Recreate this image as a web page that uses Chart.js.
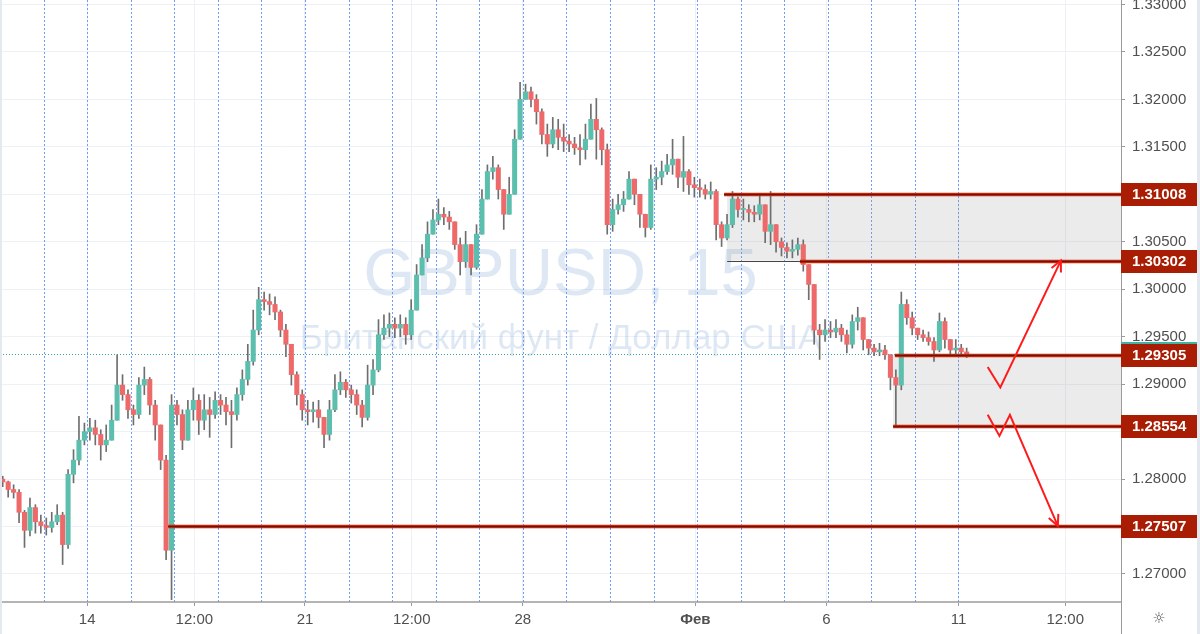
<!DOCTYPE html>
<html><head><meta charset="utf-8">
<script src="https://cdn.jsdelivr.net/npm/chart.js@4.4.1/dist/chart.umd.min.js"></script>
<style>html,body{margin:0;padding:0;background:#fff;overflow:hidden}</style>
</head><body>
<canvas id="c" width="1200" height="634"></canvas>
<script>
// ---------- DATA ----------
const perDay = 8; // candles per trading day (aggregated)
const firstOpen = 1.2800;
const closes = [
1.2797,1.2789,1.2786,1.2765,1.2746,1.2770,1.2755,1.2751,
1.2749,1.2755,1.2762,1.2731,1.2805,1.2820,1.2841,1.2850,
1.2854,1.2847,1.2836,1.2841,1.2862,1.2899,1.2889,1.2873,
1.2868,1.2899,1.2905,1.2878,1.2857,1.2820,1.2725,1.2878,
1.2868,1.2841,1.2873,1.2883,1.2862,1.2873,1.2868,1.2883,
1.2878,1.2871,1.2868,1.2889,1.2905,1.2924,1.2957,1.2989,
1.2987,1.2984,1.2976,1.2957,1.2942,1.2910,1.2889,1.2873,
1.2871,1.2873,1.2865,1.2847,1.2873,1.2894,1.2902,1.2894,
1.2889,1.2878,1.2865,1.2899,1.2915,1.2952,1.2959,1.2963,
1.2959,1.2963,1.2952,1.2978,1.3015,1.3033,1.3058,1.3073,
1.3079,1.3076,1.3071,1.3047,1.3029,1.3047,1.3023,1.3058,
1.3095,1.3124,1.3128,1.3105,1.3079,1.3100,1.3158,1.3200,
1.3208,1.3200,1.3187,1.3163,1.3153,1.3168,1.3160,1.3156,
1.3153,1.3149,1.3147,1.3158,1.3179,1.3168,1.3147,1.3068,
1.3084,1.3089,1.3095,1.3116,1.3100,1.3079,1.3065,1.3116,
1.3118,1.3124,1.3131,1.3137,1.3118,1.3124,1.3110,1.3107,
1.3105,1.3100,1.3103,1.3068,1.3054,1.3068,1.3095,1.3084,
1.3084,1.3081,1.3079,1.3089,1.3061,1.3068,1.3050,1.3044,
1.3040,1.3042,1.3047,1.3026,1.3005,1.2957,1.2952,1.2957,
1.2955,1.2959,1.2952,1.2942,1.2966,1.2970,1.2947,1.2938,
1.2934,1.2936,1.2931,1.2907,1.2899,1.2984,1.2970,1.2959,
1.2952,1.2949,1.2945,1.2936,1.2966,1.2947,1.2936,1.2938,
1.2934,1.2932
];
const highs = [
1.2803,1.2798,1.2794,1.2789,1.2767,1.2780,1.2773,1.2762,
1.2759,1.2765,1.2773,1.2765,1.2810,1.2831,1.2866,1.2859,
1.2864,1.2862,1.2852,1.2857,1.2878,1.2931,1.2910,1.2894,
1.2878,1.2907,1.2918,1.2907,1.2883,1.2857,1.2825,1.2889,
1.2883,1.2873,1.2883,1.2896,1.2889,1.2889,1.2886,1.2892,
1.2889,1.2886,1.2883,1.2896,1.2915,1.2942,1.2978,1.3002,
1.2997,1.2995,1.2992,1.2978,1.2963,1.2936,1.2913,1.2894,
1.2883,1.2881,1.2883,1.2865,1.2883,1.2910,1.2913,1.2905,
1.2899,1.2894,1.2883,1.2920,1.2926,1.2968,1.2973,1.2975,
1.2970,1.2973,1.2970,1.2989,1.3026,1.3047,1.3071,1.3084,
1.3095,1.3086,1.3082,1.3071,1.3054,1.3061,1.3047,1.3068,
1.3105,1.3131,1.3140,1.3131,1.3105,1.3118,1.3168,1.3218,
1.3216,1.3213,1.3205,1.3190,1.3174,1.3181,1.3179,1.3174,
1.3163,1.3160,1.3163,1.3174,1.3195,1.3201,1.3170,1.3153,
1.3095,1.3100,1.3103,1.3124,1.3116,1.3095,1.3079,1.3131,
1.3128,1.3135,1.3142,1.3158,1.3135,1.3161,1.3126,1.3118,
1.3116,1.3110,1.3113,1.3105,1.3071,1.3079,1.3103,1.3097,
1.3095,1.3089,1.3088,1.3098,1.3089,1.3103,1.3068,1.3054,
1.3049,1.3052,1.3054,1.3052,1.3021,1.3000,1.2963,1.2968,
1.2966,1.2968,1.2963,1.2957,1.2973,1.2981,1.2968,1.2947,
1.2942,1.2943,1.2941,1.2931,1.2915,1.2997,1.2989,1.2976,
1.2959,1.2957,1.2955,1.2949,1.2975,1.2970,1.2947,1.2947,
1.2942,1.2938
];
const lows = [
1.2792,1.2781,1.2780,1.2754,1.2728,1.2740,1.2743,1.2743,
1.2741,1.2744,1.2752,1.2710,1.2727,1.2796,1.2815,1.2836,
1.2841,1.2836,1.2820,1.2829,1.2841,1.2862,1.2883,1.2864,
1.2857,1.2864,1.2889,1.2868,1.2841,1.2810,1.2715,1.2673,
1.2857,1.2831,1.2841,1.2862,1.2847,1.2852,1.2844,1.2864,
1.2868,1.2857,1.2833,1.2862,1.2883,1.2899,1.2920,1.2952,
1.2978,1.2973,1.2968,1.2950,1.2929,1.2899,1.2878,1.2862,
1.2857,1.2860,1.2854,1.2833,1.2841,1.2871,1.2889,1.2886,
1.2880,1.2868,1.2855,1.2862,1.2889,1.2913,1.2947,1.2950,
1.2949,1.2950,1.2942,1.2947,1.2978,1.3015,1.3029,1.3058,
1.3068,1.3068,1.3063,1.3042,1.3015,1.3023,1.3015,1.3021,
1.3058,1.3095,1.3116,1.3095,1.3063,1.3079,1.3100,1.3158,
1.3200,1.3192,1.3174,1.3153,1.3140,1.3149,1.3147,1.3145,
1.3145,1.3142,1.3131,1.3137,1.3158,1.3137,1.3131,1.3058,
1.3061,1.3079,1.3082,1.3095,1.3089,1.3065,1.3055,1.3063,
1.3105,1.3110,1.3121,1.3121,1.3107,1.3103,1.3100,1.3097,
1.3097,1.3095,1.3095,1.3052,1.3045,1.3052,1.3065,1.3076,
1.3073,1.3071,1.3071,1.3073,1.3049,1.3047,1.3039,1.3035,
1.3033,1.3033,1.3036,1.3019,1.2989,1.2942,1.2926,1.2945,
1.2949,1.2949,1.2945,1.2933,1.2938,1.2957,1.2936,1.2931,
1.2930,1.2930,1.2926,1.2894,1.2855,1.2894,1.2963,1.2952,
1.2947,1.2945,1.2941,1.2924,1.2934,1.2938,1.2930,1.2930,
1.2930,1.2928
];
// x axis in trading days from start of the window
const xMin = 0, xMax = 25.73;
const dayBreaks = [1,2,3,4,5,6,7,8,9,10,11,12,13,14,15,16,17,18,19,20,21,22];
const tickValues = [2, 4.46, 7, 9.45, 12, 15.96, 18.97, 22, 24.45];
const tickLabels = ['14','12:00','21','12:00','28','Фев','6','11','12:00'];
const yMin = 1.26705, yMax = 1.33047;
const priceTicks = [1.270,1.275,1.280,1.285,1.290,1.295,1.300,1.305,1.310,1.315,1.320,1.325,1.330];
// drawn levels (price, start day)
const levelPrices = [1.31008, 1.30302, 1.29305, 1.28554, 1.27507];
const levelStarts = [16.62, 18.36, 20.54, 20.50, 3.86];
const thinSegStart = 16.69, thinSegEnd = 18.36, thinSegPrice = 1.30302;
// shaded zones
const zoneStarts = [16.69, 20.50];
const zoneTops = [1.31008, 1.29305];
const zoneBottoms = [1.30302, 1.28554];
// arrows (day, price)
const arrow1Days = [22.67, 22.96, 24.35];
const arrow1Prices = [1.29180, 1.28965, 1.30302];
const arrow2Days = [22.67, 22.94, 23.18, 24.28];
const arrow2Prices = [1.28677, 1.28455, 1.28677, 1.27507];

// ---------- BUILD ----------
const UP = '#5cbfae', DOWN = '#ee6a6a', WICK = '#6e6e6e';
const opens = closes.map((c,i)=> i===0 ? firstOpen : closes[i-1]);
const times = closes.map((c,i)=> (i+0.5)/perDay);
const wickData = closes.map((c,i)=>({x: times[i], y:[Math.min(lows[i],opens[i],c), Math.max(highs[i],opens[i],c)]}));
const bodyData = closes.map((c,i)=>({x: times[i], y:[opens[i], c]}));
const bodyColors = closes.map((c,i)=> c>=opens[i] ? UP : DOWN);
const lastPrice = closes[closes.length-1];

const FONT = '"Liberation Sans", Arial, sans-serif';
Chart.defaults.font.family = FONT;

const overlay = {
  id:'overlay',
  beforeDatasetsDraw(chart){
    const {ctx, chartArea:a, scales:{x,y}} = chart;
    ctx.save();
    ctx.beginPath(); ctx.rect(a.left,a.top,a.right-a.left,a.bottom-a.top); ctx.clip();
    // watermark
    const cx = (a.left+a.right)/2;
    ctx.fillStyle = 'rgba(90,140,200,0.2)';
    ctx.textAlign = 'center'; ctx.textBaseline='alphabetic';
    ctx.font = '67px '+FONT;
    ctx.fillText('GBPUSD, 15', cx, a.top+295);
    ctx.font = '35px '+FONT;
    ctx.fillText('Британский фунт / Доллар США', cx, a.top+349);
    // day separators
    ctx.strokeStyle = '#6f9ef0'; ctx.lineWidth = 1; ctx.setLineDash([2,2]);
    dayBreaks.forEach(d=>{
      const px = Math.round(x.getPixelForValue(d))+0.5;
      ctx.beginPath(); ctx.moveTo(px,a.top); ctx.lineTo(px,a.bottom); ctx.stroke();
    });
    ctx.setLineDash([]);
    // zones
    ctx.fillStyle = 'rgba(150,150,150,0.19)';
    zoneStarts.forEach((s,i)=>{
      const x0 = x.getPixelForValue(s);
      const y0 = y.getPixelForValue(zoneTops[i]), y1 = y.getPixelForValue(zoneBottoms[i]);
      ctx.fillRect(x0, y0, a.right-x0, y1-y0);
    });
    // current price dotted line
    const py = Math.round(y.getPixelForValue(lastPrice))+0.5;
    ctx.strokeStyle = '#3aa99a'; ctx.setLineDash([1,2]);
    ctx.beginPath(); ctx.moveTo(a.left,py); ctx.lineTo(a.right,py); ctx.stroke();
    ctx.restore();
  },
  afterDatasetsDraw(chart){
    const {ctx, chartArea:a, scales:{x,y}} = chart;
    ctx.save();
    ctx.beginPath(); ctx.rect(a.left,a.top,a.right-a.left,a.bottom-a.top); ctx.clip();
    // thin segment
    let ty = Math.round(y.getPixelForValue(thinSegPrice))+0.5;
    ctx.strokeStyle = '#444'; ctx.lineWidth = 1;
    ctx.beginPath(); ctx.moveTo(x.getPixelForValue(thinSegStart),ty); ctx.lineTo(x.getPixelForValue(thinSegEnd),ty); ctx.stroke();
    // level lines
    levelPrices.forEach((p,i)=>{
      const ly = Math.round(y.getPixelForValue(p))+0.5;
      const x0 = x.getPixelForValue(levelStarts[i]);
      ctx.strokeStyle = '#c0280c'; ctx.lineWidth = 3.5;
      ctx.beginPath(); ctx.moveTo(x0,ly); ctx.lineTo(a.right,ly); ctx.stroke();
      ctx.strokeStyle = '#6a1306'; ctx.lineWidth = 1;
      ctx.beginPath(); ctx.moveTo(x0,ly); ctx.lineTo(a.right,ly); ctx.stroke();
    });
    // arrows
    const drawArrow = (ds, ps)=>{
      ctx.strokeStyle = '#ff1a1a'; ctx.lineWidth = 2; ctx.lineJoin='miter';
      ctx.beginPath();
      ds.forEach((d,i)=>{ const X=x.getPixelForValue(d), Y=y.getPixelForValue(ps[i]); i?ctx.lineTo(X,Y):ctx.moveTo(X,Y); });
      ctx.stroke();
      const n = ds.length;
      const tx = x.getPixelForValue(ds[n-1]), tyy = y.getPixelForValue(ps[n-1]);
      const fx = x.getPixelForValue(ds[n-2]), fy = y.getPixelForValue(ps[n-2]);
      const ang = Math.atan2(tyy-fy, tx-fx);
      const L = 12, w = 0.45;
      ctx.beginPath();
      ctx.moveTo(tx - L*Math.cos(ang-w), tyy - L*Math.sin(ang-w));
      ctx.lineTo(tx, tyy);
      ctx.lineTo(tx - L*Math.cos(ang+w), tyy - L*Math.sin(ang+w));
      ctx.stroke();
    };
    drawArrow(arrow1Days, arrow1Prices);
    drawArrow(arrow2Days, arrow2Prices);
    ctx.restore();
  },
  afterDraw(chart){
    const {ctx, chartArea:a, scales:{x,y}} = chart;
    const W = chart.width, H = chart.height;
    ctx.save();
    const lx = a.right, lw = 76, lh = 23;
    // last price label (teal) behind
    const yl = y.getPixelForValue(lastPrice);
    ctx.fillStyle = '#3cb5a4';
    ctx.fillRect(lx, Math.round(yl-lh/2), lw, lh);
    // level labels
    ctx.font = 'bold 15px '+FONT; ctx.textAlign='left'; ctx.textBaseline='middle';
    levelPrices.forEach(p=>{
      const ly = Math.round(y.getPixelForValue(p));
      ctx.fillStyle = '#a81d03';
      ctx.fillRect(lx, ly-11, lw, lh);
      ctx.fillStyle = '#ffffff';
      ctx.fillText(p.toFixed(5), lx+11, ly+1);
    });
    // axis line continuation & frame
    ctx.strokeStyle = '#9a9a9a'; ctx.lineWidth = 1;
    ctx.beginPath(); ctx.moveTo(a.right+0.5, a.bottom); ctx.lineTo(a.right+0.5, H); ctx.stroke();
    ctx.fillStyle = '#e4e9ef';
    ctx.fillRect(0,0,2,H);
    ctx.fillRect(W-3,0,3,H);
    // gear icon
    ctx.fillStyle = '#555'; ctx.font = '15px "DejaVu Sans"'; ctx.textAlign='center'; ctx.textBaseline='middle';
    ctx.fillText('☼', (a.right+W-3)/2, 619);
    ctx.restore();
  }
};

new Chart(document.getElementById('c'), {
  type: 'bar',
  data: {
    datasets: [
      { label:'wick', data: wickData, backgroundColor: WICK, barThickness: 1, grouped:false, borderWidth:0, order:2 },
      { label:'body', data: bodyData, backgroundColor: bodyColors, barThickness: 4.4, minBarLength: 1, grouped:false, borderWidth:0, order:1 }
    ]
  },
  options: {
    responsive: false, animation: false, devicePixelRatio: 1,
    layout: { padding: 0 },
    plugins: { legend:{display:false}, tooltip:{enabled:false} },
    scales: {
      x: {
        type:'linear', min:xMin, max:xMax, offset:false,
        grid: { offset:false, color:'#edf1f6', tickColor:'#9a9a9a', tickLength:4, lineWidth:1 },
        border: { color:'#b4b4b4', width:2 },
        afterBuildTicks: s => { s.ticks = tickValues.map(v=>({value:v})); },
        afterFit: s => { s.height = 32; s.paddingLeft = 0; s.paddingRight = 0; },
        ticks: {
          autoSkip:false, maxRotation:0, padding:5, color:'#505050',
          font: c => ({ size:15, family:FONT, weight: tickLabels[c.index]==='Фев' ? 'bold' : 'normal' }),
          callback: (v,i) => tickLabels[i]
        }
      },
      y: {
        type:'linear', position:'right', min:yMin, max:yMax,
        grid: { color:'#edf1f6', tickColor:'#9a9a9a', tickLength:4 },
        border: { color:'#9a9a9a', width:1 },
        afterBuildTicks: s => { s.ticks = priceTicks.map(v=>({value:v})); },
        afterFit: s => { s.width = 79; s.paddingTop = 0; s.paddingBottom = 0; },
        ticks: { padding:7, color:'#505050', font:{size:15, family:FONT}, callback: v => v.toFixed(5) }
      }
    }
  },
  plugins: [overlay]
});
</script>
</body></html>
